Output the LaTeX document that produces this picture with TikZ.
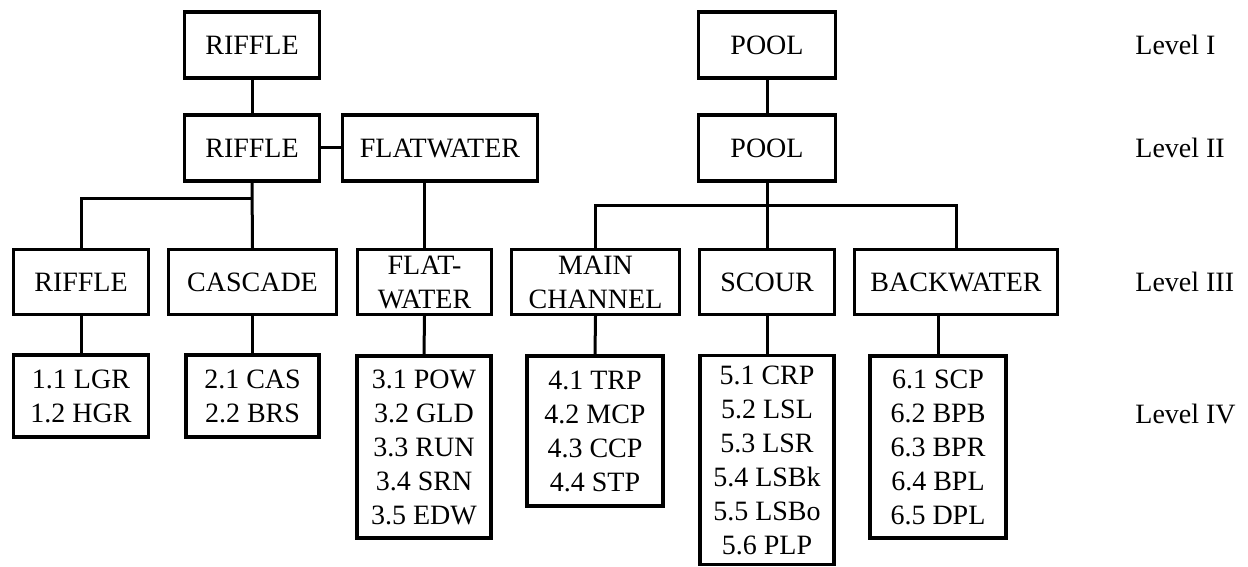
\documentclass[tikz,border=0pt]{standalone}
\usepackage{fontspec}
\setmainfont{Liberation Serif}
\begin{document}
\begin{tikzpicture}[x=0.5pt,y=-0.5pt,
  box/.style={draw, line width=1.6pt, inner sep=0pt, align=center,
    font=\fontsize{14}{17}\selectfont},
  conn/.style={line width=1.5pt},
  lvl/.style={anchor=west, inner sep=0pt, font=\fontsize{14}{17}\selectfont}]
\useasboundingbox (0,0) rectangle (1248,567);
% Level I
\node[box, minimum width=67.5pt, minimum height=33pt] (R1) at (252,45) {RIFFLE};
\node[box, minimum width=68.5pt, minimum height=33pt] (P1) at (767,45) {POOL};
% Level II
\node[box, minimum width=67.5pt, minimum height=33pt] (R2) at (252,148) {RIFFLE};
\node[box, minimum width=97.5pt, minimum height=33pt] (FW2) at (440,148) {FLATWATER};
\node[box, minimum width=68.5pt, minimum height=33pt] (P2) at (767,148) {POOL};
% Level III
\node[box, minimum width=67.5pt, minimum height=32.5pt] (R3) at (81,282) {RIFFLE};
\node[box, minimum width=84pt, minimum height=32.5pt] (C3) at (252.5,282) {CASCADE};
\node[box, minimum width=67pt, minimum height=32.5pt] (F3) at (424.5,282) {FLAT-\\WATER};
\node[box, minimum width=84pt, minimum height=32.5pt] (M3) at (595.5,282) {MAIN\\CHANNEL};
\node[box, minimum width=67.5pt, minimum height=32.5pt] (S3) at (767,282) {SCOUR};
\node[box, minimum width=101.5pt, minimum height=32.5pt] (B3) at (956,282) {BACKWATER};
% Level IV
\node[box, minimum width=67.5pt, minimum height=41pt] (R4) at (81,396) {1.1 LGR\\1.2 HGR};
\node[box, minimum width=66.5pt, minimum height=41pt] (C4) at (252.5,396) {2.1 CAS\\2.2 BRS};
\node[box, minimum width=67pt, minimum height=91pt] (F4) at (424,447) {3.1 POW\\3.2 GLD\\3.3 RUN\\3.4 SRN\\3.5 EDW};
\node[box, minimum width=68pt, minimum height=75pt] (M4) at (595,431) {4.1 TRP\\4.2 MCP\\4.3 CCP\\4.4 STP};
\node[box, minimum width=67pt, minimum height=104.5pt] (S4) at (767,460) {5.1 CRP\\5.2 LSL\\5.3 LSR\\5.4 LSBk\\5.5 LSBo\\5.6 PLP};
\node[box, minimum width=68pt, minimum height=91pt] (B4) at (938,447) {6.1 SCP\\6.2 BPB\\6.3 BPR\\6.4 BPL\\6.5 DPL};
% Level labels
\node[lvl] (L1) at (1135,45) {Level I};
\node[lvl] (L2) at (1135,148) {Level II};
\node[lvl] (L3) at (1135,282) {Level III};
\node[lvl] (L4) at (1135,414) {Level IV};
% junctions
\coordinate (jR) at (252,198);
\coordinate (jP) at (767,205);
% connectors
\draw[conn] (R1.south) -- (R2.north);
\draw[conn] (R2.east) -- (FW2.west);
\draw[conn] (R2.south) -- (C3.north);
\draw[conn] (jR) -| (R3.north);
\draw[conn] (F3.north |- FW2.south) -- (F3.north);
\draw[conn] (P1.south) -- (P2.north);
\draw[conn] (P2.south) -- (S3.north);
\draw[conn] (M3.north) |- (jP) -| (B3.north);
\draw[conn] (R3.south) -- (R4.north);
\draw[conn] (C3.south) -- (C4.north);
\draw[conn] (F3.south) -- (F4.north);
\draw[conn] (M3.south) -- (M4.north);
\draw[conn] (S3.south) -- (S4.north);
\draw[conn] (B4.north |- B3.south) -- (B4.north);
\end{tikzpicture}
\end{document}
